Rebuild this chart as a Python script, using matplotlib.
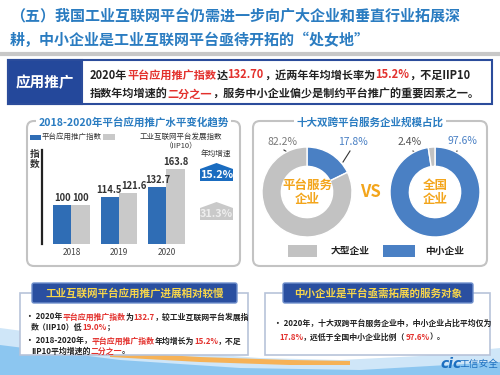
import matplotlib
matplotlib.use('Agg')
import matplotlib.pyplot as plt
from matplotlib.patches import FancyBboxPatch, Rectangle, Polygon
import numpy as np

plt.rcParams['font.family'] = ['Noto Sans CJK SC', 'DejaVu Sans']

# data
years = ['2018', '2019', '2020']
platform_index = [100, 114.5, 132.7]
iip10_index = [100, 121.6, 163.8]
platform_cagr = 15.2
iip10_cagr = 31.3
share_labels = ['中小企业', '大型企业']
platform_share = [17.8, 82.2]
national_share = [97.6, 2.4]

BLUE_T = '#2a7cc1'
NAVY = '#24489b'
RED = '#e3312d'
BAR_BLUE = '#2f6db5'
BAR_GRAY = '#c9c9c9'
PIE_BLUE = '#4a80c4'
PIE_GRAY = '#c2c2c2'
ORANGE = '#f3a51b'
TXT = '#222222'

fig = plt.figure(figsize=(5, 3.75), dpi=100)
fig.patch.set_facecolor('white')
bg = fig.add_axes([0, 0, 1, 1])
bg.set_xlim(0, 500)
bg.set_ylim(375, 0)
bg.axis('off')
renderer = fig.canvas.get_renderer()


def rich(x, y, parts, size, weight='bold'):
    # draw colored text pieces one after another
    for s, c in parts:
        t = bg.text(x, y, s, color=c, fontsize=size, fontweight=weight,
                    ha='left', va='center', zorder=6)
        x += t.get_window_extent(renderer).width
    return x


# bottom background swoosh
bg.add_patch(Polygon([(0, 328), (90, 340), (180, 352), (260, 358), (340, 360),
                      (420, 356), (500, 348), (500, 375), (0, 375)],
                     fc='#cfe6f8', ec='none', zorder=0))
bg.add_patch(Polygon([(0, 345), (120, 360), (240, 368), (360, 370), (500, 362),
                      (500, 375), (0, 375)], fc='#8cc6f0', ec='none', zorder=0))
bg.add_patch(Polygon([(110, 352), (200, 357), (290, 360), (350, 361),
                      (350, 365), (290, 365), (200, 362), (110, 357)],
                     fc='#f6b257', ec='none', zorder=0.5))

# heading
bg.text(10, 16, '（五）我国工业互联网平台仍需进一步向广大企业和垂直行业拓展深',
        fontsize=10.8, fontweight='bold', color=BLUE_T, va='center')
bg.text(10, 40, '耕，中小企业是工业互联网平台亟待开拓的“处女地”',
        fontsize=10.8, fontweight='bold', color=BLUE_T, va='center')
bg.plot([0, 500], [54, 54], color='#c8c8c8', lw=3, zorder=1)

# summary box
bg.add_patch(Rectangle((8, 60), 484, 44, fc='white', ec='#2b4c9b', lw=1.5, zorder=2))
bg.add_patch(Rectangle((8, 60), 74, 44, fc=NAVY, ec='#2b4c9b', lw=1.5, zorder=3))
bg.text(45, 82, '应用推广', color='white', fontsize=10.5, fontweight='bold',
        ha='center', va='center', zorder=4)
rich(90, 75, [('2020年', TXT), ('平台应用推广指数', RED), ('达', TXT),
              ('132.70', RED), ('，近两年年均增长率为', TXT), ('15.2%', RED),
              ('，不足IIP10', TXT)], 8)
rich(90, 94, [('指数年均增速的', TXT), ('二分之一', RED),
              ('，服务中小企业偏少是制约平台推广的重要因素之一。', TXT)], 8)

# panels
for x0, w, title in [(27, 213, '2018-2020年平台应用推广水平变化趋势'),
                     (253, 234, '十大双跨平台服务企业规模占比')]:
    bg.add_patch(FancyBboxPatch((x0, 121), w, 145,
                                boxstyle='round,pad=0,rounding_size=7',
                                fc='white', ec='#c3c3c3', lw=1.5, zorder=1))
    bg.text(x0 + w / 2, 122, title, color=BLUE_T, fontsize=7.6, fontweight='bold',
            ha='center', va='center', zorder=3,
            bbox=dict(fc='white', ec='none', pad=1.5))

# left legend
bg.add_patch(Rectangle((30, 134.5), 11, 5, fc=BAR_BLUE, ec='none', zorder=3))
bg.text(42, 137, '平台应用推广指数', fontsize=5.4, color='#333333', va='center')
bg.add_patch(Rectangle((103, 134), 12, 6, fc=BAR_GRAY, ec='none', zorder=3))
bg.text(181, 137, '工业互联网平台发展指数', fontsize=5.4, color='#333333',
        va='center', ha='center')
bg.text(181, 146, '（IIP10）', fontsize=5.4, color='#333333', va='center', ha='center')
bg.text(35, 159, '指\n数', fontsize=7, fontweight='bold', color='#333333',
        va='center', ha='center', linespacing=1.0)

# bar chart
ax = fig.add_axes([42 / 500, (375 - 244) / 375, 153 / 500, 94 / 375])
ax.set_facecolor('none')
x = np.arange(len(years))
bw = 0.38
ax.bar(x - bw / 2, platform_index, bw, color=BAR_BLUE)
ax.bar(x + bw / 2, iip10_index, bw, color=BAR_GRAY)
# small nudges so the 2019 labels don't collide
nudge_blue = [0, -0.03, 0]
nudge_gray = [0, 0.12, 0]
for xi, v, d in zip(x, platform_index, nudge_blue):
    ax.text(xi - bw / 2 + d, v + 3, f'{v:g}', ha='center', va='bottom',
            fontsize=6.8, fontweight='bold', color='#333333')
for xi, v, d in zip(x, iip10_index, nudge_gray):
    ax.text(xi + bw / 2 + d, v + 3, f'{v:g}', ha='center', va='bottom',
            fontsize=6.8, fontweight='bold', color='#333333')
ax.set_xlim(-0.62, 2.6)
ax.set_ylim(31, 197.5)
ax.set_xticks(x, years)
ax.tick_params(axis='x', length=0, labelsize=6, colors='#444444', pad=3)
ax.set_yticks([])
for s in ['top', 'right', 'bottom']:
    ax.spines[s].set_visible(False)
ax.spines['left'].set_linewidth(1.6)
ax.spines['left'].set_color('#222222')

# growth badges
bg.text(216, 154, '年均增速', fontsize=5.5, color='#333333', ha='center', va='center')
for top, fc, tc, val in [(163, '#1a6cc0', 'white', platform_cagr),
                         (202, '#c9c9c9', '#eeeeee', iip10_cagr)]:
    bg.add_patch(Polygon([(200, top + 6), (216.5, top), (233, top + 6),
                          (233, top + 18), (200, top + 18)], fc=fc, ec='none', zorder=3))
    bg.text(216.5, top + 12, f'{val}%', color=tc, fontsize=7.8, fontweight='bold',
            ha='center', va='center', zorder=4)

# donuts
for cx, cy, r, vals, center_txt in [(307, 192, 45, platform_share, '平台服务\n企业'),
                                     (435, 192, 45, national_share, '全国\n企业')]:
    pa = fig.add_axes([(cx - r) / 500, (375 - cy - r) / 375, 2 * r / 500, 2 * r / 375])
    pa.pie(vals, colors=[PIE_BLUE, PIE_GRAY], startangle=90, counterclock=False,
           radius=1, wedgeprops=dict(width=0.43, edgecolor='white', linewidth=1))
    pa.set_xlim(-1, 1)
    pa.set_ylim(-1, 1)
    pa.text(0, 0, center_txt, color=ORANGE, fontsize=9, fontweight='bold',
            ha='center', va='center', linespacing=1.1)

bg.text(370, 192, 'VS', color=ORANGE, fontsize=12, fontweight='bold',
        ha='center', va='center')

# donut labels with leader lines
pie_labels = [(f'{platform_share[1]}%', '#7a7a7a', (282, 142), (284, 150), (295, 157)),
              (f'{platform_share[0]}%', PIE_BLUE, (353, 142), (350, 151), (343, 162)),
              (f'{national_share[1]}%', '#555555', (410, 142), (413, 151), (430, 163)),
              (f'{national_share[0]}%', PIE_BLUE, (462, 141), (457, 151), (452, 162))]
for txt, c, tp, p0, p1 in pie_labels:
    bg.text(tp[0], tp[1], txt, color=c, fontsize=7.5, ha='center', va='center', zorder=5)
    bg.plot([p0[0], p1[0]], [p0[1], p1[1]], color='#333333', lw=0.8, zorder=6)

# donut legend
bg.add_patch(Rectangle((288, 245), 29, 12, fc=PIE_GRAY, ec='none', zorder=3))
bg.text(331, 251, share_labels[1], fontsize=7, fontweight='bold', color=TXT, va='center')
bg.add_patch(Rectangle((383, 245), 32, 12, fc=PIE_BLUE, ec='none', zorder=3))
bg.text(425, 251, share_labels[0], fontsize=7, fontweight='bold', color=TXT, va='center')

# bottom boxes
for bx, bw_, hx, hw, head in [(20, 228, 32, 205, '工业互联网平台应用推广进展相对较慢'),
                              (265, 225, 283, 190, '中小企业是平台亟需拓展的服务对象')]:
    bg.add_patch(Rectangle((bx, 293), bw_, 62, fc='white', ec='#b7c3d9', lw=1.2, zorder=1))
    bg.add_patch(FancyBboxPatch((hx, 283), hw, 20, boxstyle='round,pad=0,rounding_size=2',
                                fc='#2a4fa0', ec='#6f8fcc', lw=1, zorder=3))
    bg.text(hx + hw / 2, 293, head, color='#f7d64b', fontsize=7.6, fontweight='bold',
            ha='center', va='center', zorder=4)

rich(26, 317, [('• 2020年', TXT), ('平台应用推广指数', RED), ('为', TXT), ('132.7', RED),
               ('，较工业互联网平台发展指', TXT)], 5.7)
rich(31, 327, [('数（IIP10）低', TXT), ('19.0%', RED), ('；', TXT)], 5.7)
rich(26, 341, [('• 2018-2020年，', TXT), ('平台应用推广指数', RED), ('年均增长为', TXT),
               ('15.2%', RED), ('，不足', TXT)], 5.7)
rich(31, 351, [('IIP10平均增速的', TXT), ('二分之一', RED), ('。', TXT)], 5.7)

rich(274, 323, [('• 2020年，十大双跨平台服务企业中，中小企业占比平均仅为', TXT)], 5.7)
rich(279, 337, [('17.8%', RED), ('，远低于全国中小企业比例（', TXT), ('97.6%', RED),
                ('）。', TXT)], 5.7)

# logo
bg.text(451, 364, 'cic', color='#1c6fc0', fontsize=10, fontweight='bold',
        fontstyle='italic', ha='center', va='center', family='DejaVu Sans')
bg.text(479, 364, '工信安全', color='#1c6fc0', fontsize=7, ha='center', va='center')

fig.savefig('out.png', dpi=100, facecolor='white')
